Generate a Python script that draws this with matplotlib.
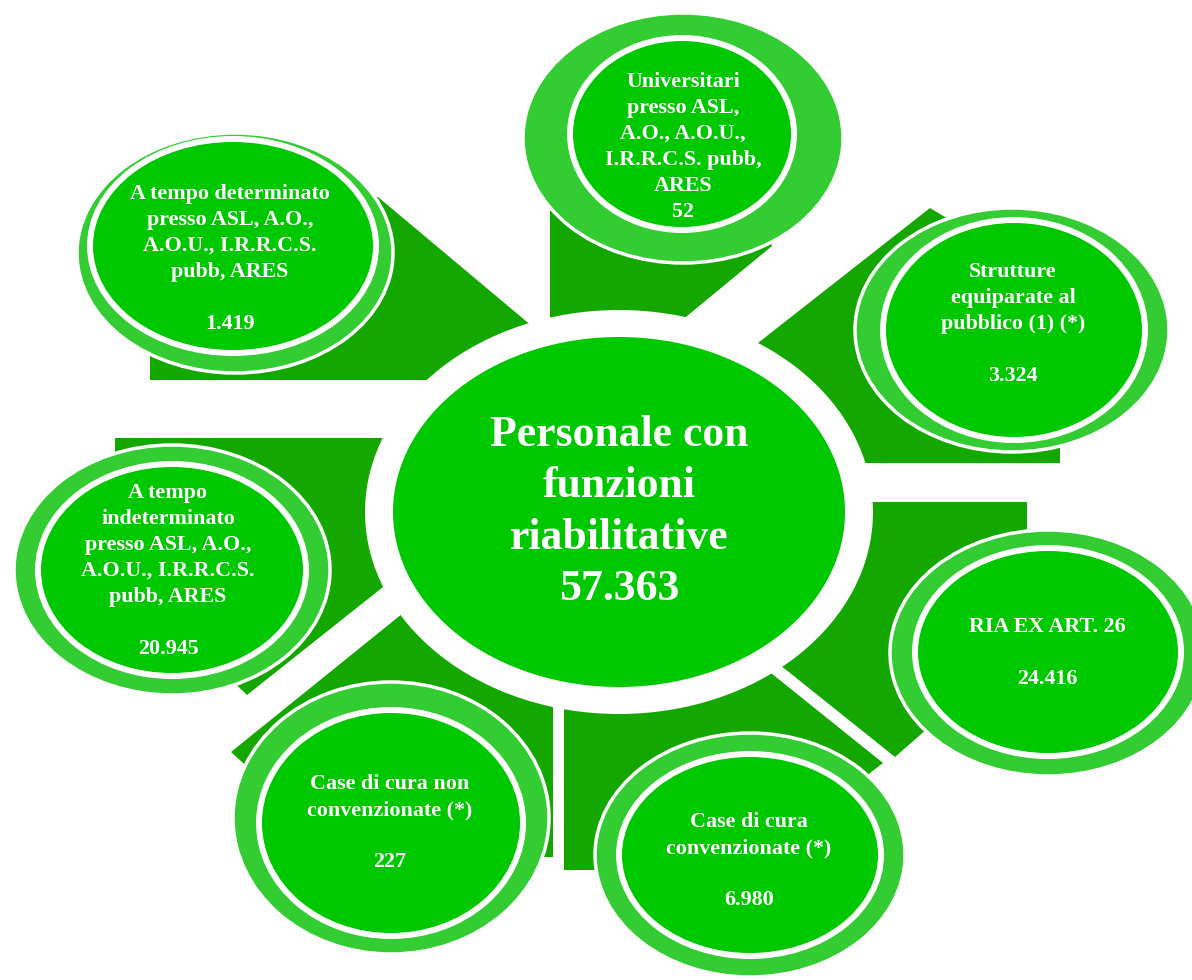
import matplotlib
matplotlib.use("Agg")
import matplotlib.pyplot as plt
from matplotlib.patches import Ellipse, Polygon

# ---------------- data ----------------
categories = [
    ["A tempo determinato", "presso ASL, A.O.,", "A.O.U., I.R.R.C.S.", "pubb, ARES", ""],
    ["Universitari", "presso ASL,", "A.O., A.O.U.,", "I.R.R.C.S. pubb,", "ARES"],
    ["Strutture", "equiparate al", "pubblico (1) (*)", ""],
    ["RIA EX ART. 26", ""],
    ["Case di cura", "convenzionate (*)", ""],
    ["Case di cura non", "convenzionate (*)", ""],
    ["A tempo", "indeterminato", "presso ASL, A.O.,", "A.O.U., I.R.R.C.S.", "pubb, ARES", ""],
]
values = [1419, 52, 3324, 24416, 6980, 227, 20945]
center_title = ["Personale con", "funzioni", "riabilitative"]


def fmt(v):
    return f"{v:,}".replace(",", ".")


# ---------------- layout (pixel coordinates, y down) ----------------
W, H = 1192, 980
DARK = "#14A700"
RING = "#33CC33"
GREEN = "#00C800"

# outer ellipse (cx, cy, rx, ry), inner ellipse (cx, cy, rx, ry), text centre (x, y)
sat_outer = [(235, 253, 158, 120), (683, 138, 160, 125), (1012, 330, 157, 122),
             (1048, 653, 158, 123), (750, 855, 155, 122), (391, 818, 158, 136),
             (172, 570, 158, 125)]
sat_inner = [(233, 246, 140, 104), (682, 134, 109, 93), (1014, 330, 128, 107),
             (1048, 652, 130, 101), (750, 855, 128, 98), (391, 823, 129, 110),
             (172, 570, 131, 103)]
sat_text = [(230, 259), (683, 147), (1013, 324), (1047, 653), (749, 861), (390, 823), (168, 571)]
line_gap = 26

connectors = [
    [(150, 380), (150, 300), (250, 200), (378, 197), (619, 399), (619, 380)],
    [(550, 420), (550, 150), (750, 150), (772, 246), (619, 372), (619, 420)],
    [(930, 208), (1000, 250), (1060, 330), (1060, 463), (619, 463), (619, 452)],
    [(619, 502), (1027, 502), (1027, 620), (960, 700), (895, 757), (700, 601)],
    [(564, 560), (690, 608), (883, 763), (870, 773), (800, 850), (650, 870), (564, 870)],
    [(231, 752), (300, 815), (450, 857), (553, 857), (553, 492)],
    [(115, 438), (571, 438), (383, 587), (247, 695), (200, 650), (115, 500)],
]

CX, CY = 619, 512
center_rx, center_ry = 226, 175
ring_rx, ring_ry = 254, 202

# ---------------- drawing ----------------
fig = plt.figure(figsize=(W / 100, H / 100), dpi=100)
ax = fig.add_axes([0, 0, 1, 1])
ax.set_xlim(0, W)
ax.set_ylim(H, 0)
ax.axis("off")

for poly in connectors:
    ax.add_patch(Polygon(poly, closed=True, facecolor=DARK, edgecolor="none", zorder=1))

ax.add_patch(Ellipse((CX, CY), 2 * ring_rx, 2 * ring_ry, facecolor="white", edgecolor="none", zorder=2))
ax.add_patch(Ellipse((CX, CY), 2 * center_rx, 2 * center_ry, facecolor=GREEN, edgecolor="none", zorder=3))

font = dict(family="Liberation Serif", weight="bold", color="white", ha="center", va="center")

for lines, v, (ox, oy, orx, ory), (ix, iy, irx, iry), (tx, ty) in zip(
        categories, values, sat_outer, sat_inner, sat_text):
    ax.add_patch(Ellipse((ox, oy), 2 * orx, 2 * ory, facecolor=RING, edgecolor="white", lw=2.5, zorder=4))
    ax.add_patch(Ellipse((ix, iy), 2 * (irx + 6), 2 * (iry + 6), facecolor="white", edgecolor="none", zorder=5))
    ax.add_patch(Ellipse((ix, iy), 2 * irx, 2 * iry, facecolor=GREEN, edgecolor="none", zorder=6))
    all_lines = lines + [fmt(v)]
    n = len(all_lines)
    for i, s in enumerate(all_lines):
        if s:
            ax.text(tx, ty + (i - (n - 1) / 2) * line_gap, s, fontsize=15.8, zorder=7, **font)

center_lines = center_title + [fmt(sum(values))]
n = len(center_lines)
for i, s in enumerate(center_lines):
    ax.text(CX, CY + (i - (n - 1) / 2) * 51.3, s, fontsize=31.5, zorder=7, **font)

fig.savefig("out.png", dpi=100, facecolor="white")
